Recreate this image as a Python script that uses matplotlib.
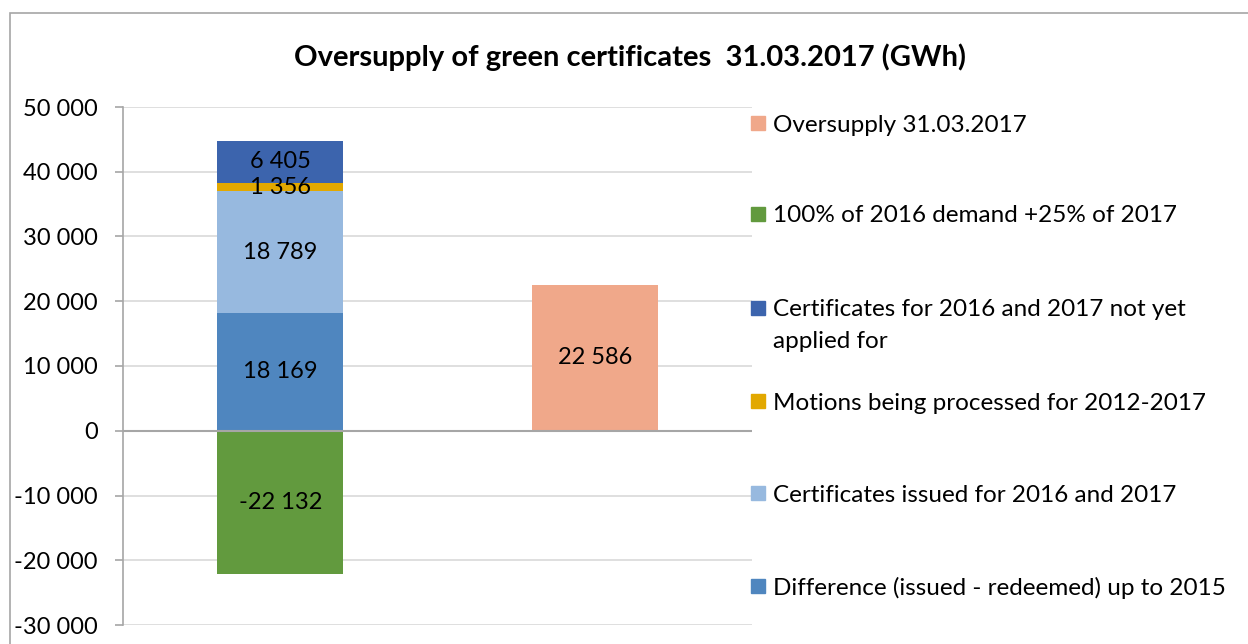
import matplotlib
matplotlib.use("Agg")
import matplotlib.pyplot as plt
from matplotlib.patches import Rectangle
import numpy as np

plt.rcParams['font.family'] = ['Lato', 'DejaVu Sans']

# ---- data ----
categories = ["Balance", "Oversupply"]
series_names = [
    "Difference (issued - redeemed) up to 2015",
    "Certificates issued for 2016 and 2017",
    "Motions being processed for 2012-2017",
    "Certificates for 2016 and 2017 not yet\napplied for",
    "100% of 2016 demand +25% of 2017",
    "Oversupply 31.03.2017",
]
diff_upto_2015 = [18169, 0]
issued_2016_2017 = [18789, 0]
motions_processed = [1356, 0]
not_yet_applied = [6405, 0]
demand = [-22132, 0]
oversupply = [0, 22586]
yticks = [-30000, -20000, -10000, 0, 10000, 20000, 30000, 40000, 50000]
title = "Oversupply of green certificates  31.03.2017 (GWh)"

colors = {
    series_names[0]: "#4F86BF",
    series_names[1]: "#97B9DF",
    series_names[2]: "#E2A800",
    series_names[3]: "#3C64AD",
    series_names[4]: "#629A3E",
    series_names[5]: "#F0A88A",
}

def fmt(v):
    s = "{:,}".format(int(abs(v))).replace(",", " ")
    return ("-" if v < 0 else "") + s

FS = 17
W, H = 1248, 644
fig = plt.figure(figsize=(W / 100, H / 100), dpi=100)
ax = fig.add_axes([123 / W, (H - 625) / H, (752 - 123) / W, (625 - 107) / H])

x = np.arange(len(categories))
width = 0.40

pos_series = [diff_upto_2015, issued_2016_2017, motions_processed, not_yet_applied]
bottom = np.zeros(len(categories))
for name, vals in zip(series_names[:4], pos_series):
    vals = np.array(vals, dtype=float)
    ax.bar(x, vals, width, bottom=bottom, color=colors[name], zorder=3)
    for xi, v, b in zip(x, vals, bottom):
        if v != 0:
            ax.text(xi, b + v / 2, fmt(v), ha="center", va="center", fontsize=FS, zorder=5)
    bottom += vals

for name, vals in [(series_names[4], demand), (series_names[5], oversupply)]:
    vals = np.array(vals, dtype=float)
    ax.bar(x, vals, width, color=colors[name], zorder=3)
    for xi, v in zip(x, vals):
        if v != 0:
            ax.text(xi, v / 2, fmt(v), ha="center", va="center", fontsize=FS, zorder=5)

ax.set_xlim(-0.5, 1.5)
ax.set_ylim(-30000, 50000)
ax.set_yticks(yticks)
ax.set_yticklabels([fmt(v) for v in yticks], fontsize=FS)
ax.set_xticks([])
ax.grid(axis="y", color="#D9D9D9", linewidth=1.2, zorder=0)
ax.axhline(0, color="#A6A6A6", linewidth=1.5, zorder=4)
for s in ["top", "right", "bottom"]:
    ax.spines[s].set_visible(False)
ax.spines["left"].set_color("#A6A6A6")
ax.spines["left"].set_linewidth(1.2)
ax.tick_params(axis="y", length=6, color="#A6A6A6", width=1.2, pad=12)

# title
fig.text(630 / W, 1 - 57 / H, title, ha="center", va="center", fontsize=21, fontweight="bold")

# legend (manual placement)
legend_order = [5, 4, 3, 2, 1, 0]
legend_y = [123, 214, 308, 401, 493, 586]
for idx, yy in zip(legend_order, legend_y):
    name = series_names[idx]
    fig.patches.append(Rectangle((751 / W, 1 - (yy + 7) / H), 14 / W, 14 / H,
                                 transform=fig.transFigure, color=colors[name]))
    for i, line in enumerate(name.split("\n")):
        fig.text(773 / W, 1 - (yy + 32 * i) / H, line, ha="left", va="center_baseline",
                 fontsize=17.5)

# outer border
fig.patches.append(Rectangle((10 / W, -0.1), 1.2, 1 - 13 / H + 0.1, transform=fig.transFigure,
                             fill=False, edgecolor="#A6A6A6", linewidth=1.2))

fig.savefig("out.png", dpi=100)
